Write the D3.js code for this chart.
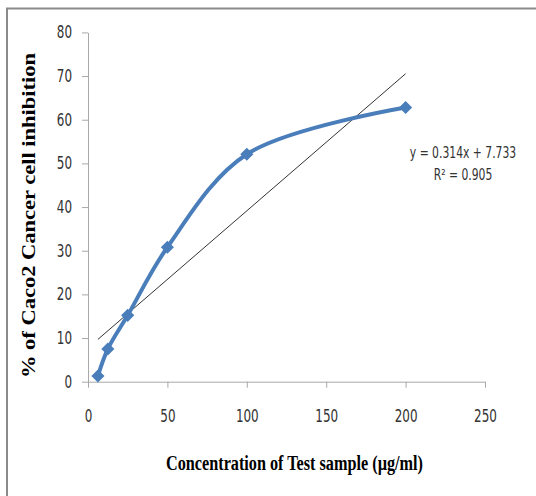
<!DOCTYPE html>
<html>
<head>
<meta charset="utf-8">
<script src="https://cdn.jsdelivr.net/npm/d3@7"></script>
<style>
  body { margin: 0; background: #fff; }
  svg { display: block; }
  .tick-lbl { font-family: "DejaVu Sans Condensed", "Liberation Sans", sans-serif; font-size: 17px; fill: #333; }
</style>
</head>
<body>
<div id="chart"></div>
<script>
// Chart data
const concentration = [6.25, 12.5, 25, 50, 100, 200];
const inhibition = [1.3, 7.5, 15.2, 30.8, 52.1, 62.8];
const xTicks = [0, 50, 100, 150, 200, 250];
const yTicks = [0, 10, 20, 30, 40, 50, 60, 70, 80];
const trendSlope = 0.314;
const trendIntercept = 7.733;
const trendLabel = ["y = 0.314x + 7.733", "R² = 0.905"];

const width = 536;
const height = 496;

const svg = d3.select("#chart")
    .append("svg")
    .attr("width", width)
    .attr("height", height);

// frame
svg.append("path")
    .attr("d", "M7,496 V8.5 H536")
    .attr("fill", "none")
    .attr("stroke", "#8a8a8a")
    .attr("stroke-width", 2);

const x = d3.scaleLinear().domain([0, 250]).range([88, 485]);
const y = d3.scaleLinear().domain([0, 80]).range([381.7, 32.4]);

const axisColor = "#a8a8a8";

// squeeze digits to the narrow look of the original font
function narrow(sel) {
    sel.attr("class", "tick-lbl")
        .attr("textLength", d => String(d).length * 7.6)
        .attr("lengthAdjust", "spacingAndGlyphs");
}

// x axis
const gx = svg.append("g")
    .attr("transform", `translate(0,${y(0)})`)
    .call(d3.axisBottom(x).tickValues(xTicks).tickSize(6).tickPadding(22).tickSizeOuter(0));
gx.select(".domain").attr("stroke", axisColor);
gx.selectAll(".tick line").attr("stroke", axisColor);
gx.selectAll(".tick text").call(narrow);

// y axis
const gy = svg.append("g")
    .attr("transform", `translate(${x(0)},0)`)
    .call(d3.axisLeft(y).tickValues(yTicks).tickSize(6).tickPadding(10).tickSizeOuter(0));
gy.select(".domain").attr("stroke", axisColor);
gy.selectAll(".tick line").attr("stroke", axisColor);
gy.selectAll(".tick text").call(narrow);

// linear trendline
const x0 = concentration[0];
const x1 = concentration[concentration.length - 1];
svg.append("line")
    .attr("x1", x(x0)).attr("y1", y(trendSlope * x0 + trendIntercept))
    .attr("x2", x(x1)).attr("y2", y(trendSlope * x1 + trendIntercept))
    .attr("stroke", "#333")
    .attr("stroke-width", 1);

// smoothed series line
const points = concentration.map((c, i) => [c, inhibition[i]]);
const line = d3.line()
    .x(d => x(d[0]))
    .y(d => y(d[1]))
    .curve(d3.curveCatmullRom.alpha(0.5));

svg.append("path")
    .datum(points)
    .attr("d", line)
    .attr("fill", "none")
    .attr("stroke", "#4a7ebb")
    .attr("stroke-width", 4);

// diamond markers
svg.append("g")
    .selectAll("path")
    .data(points)
    .enter()
    .append("path")
    .attr("transform", d => `translate(${x(d[0])},${y(d[1])})`)
    .attr("d", d3.symbol().type(d3.symbolDiamond2).size(110))
    .attr("fill", "#4a7ebb");

// trendline equation, centred, horizontally squeezed
const eq = svg.append("g")
    .attr("transform", "translate(463,0) scale(0.8,1)");
eq.selectAll("text")
    .data(trendLabel)
    .enter()
    .append("text")
    .attr("class", "tick-lbl")
    .attr("text-anchor", "middle")
    .attr("x", 0)
    .attr("y", (d, i) => 158 + i * 22)
    .style("font-size", "15px")
    .text(d => d);

// axis titles
svg.append("text")
    .attr("x", 166).attr("y", 470)
    .attr("textLength", 257)
    .attr("lengthAdjust", "spacingAndGlyphs")
    .style("font-family", "Liberation Serif, 'Times New Roman', serif")
    .style("font-weight", "bold")
    .style("font-size", "20px")
    .text("Concentration of Test sample (µg/ml)");

svg.append("text")
    .attr("transform", "translate(35,378) rotate(-90)")
    .attr("textLength", 325)
    .attr("lengthAdjust", "spacingAndGlyphs")
    .style("font-family", "Liberation Serif, 'Times New Roman', serif")
    .style("font-weight", "bold")
    .style("font-size", "19px")
    .text("% of Caco2 Cancer cell inhibition");
</script>
</body>
</html>
